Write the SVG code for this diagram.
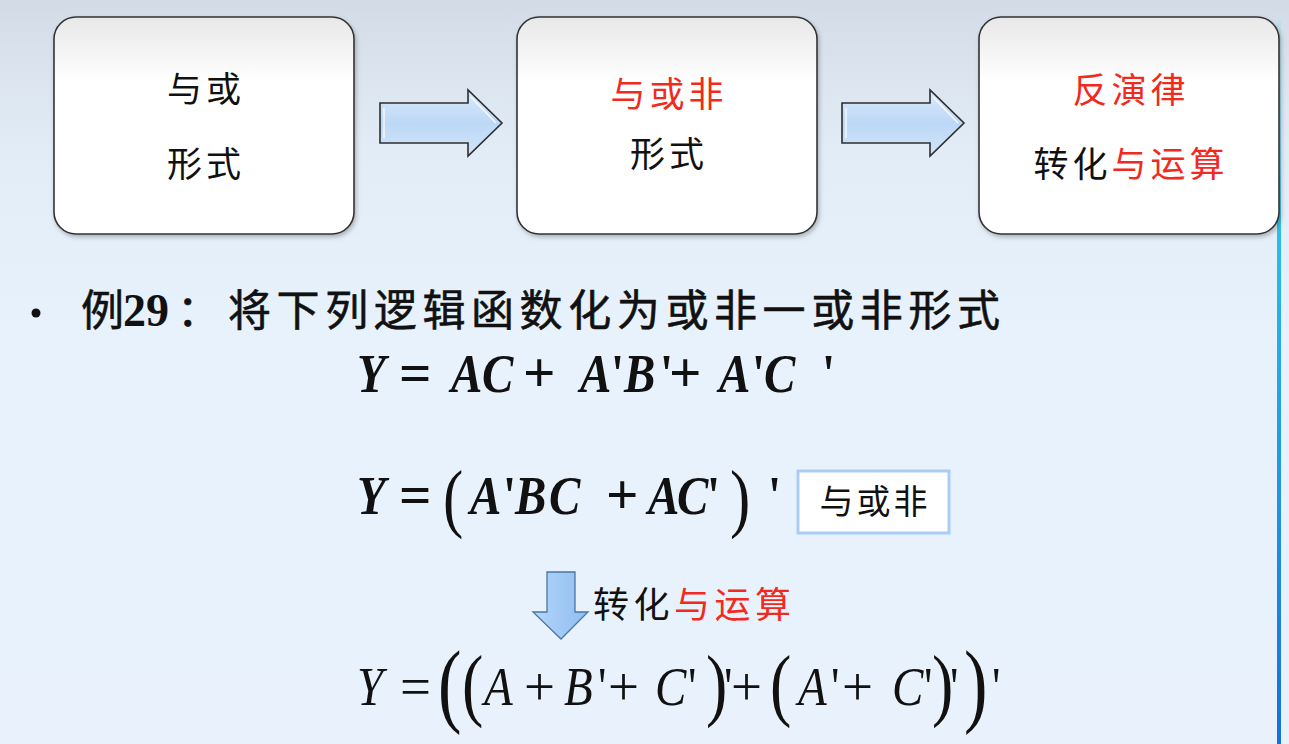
<svg xmlns="http://www.w3.org/2000/svg" width="1289" height="744" viewBox="0 0 1289 744">
<defs>
<linearGradient id="bg" x1="0" y1="0" x2="0" y2="1">
<stop offset="0" stop-color="#d3dce6"/>
<stop offset="0.2" stop-color="#e2ecf7"/>
<stop offset="0.45" stop-color="#e8f2fc"/>
<stop offset="1" stop-color="#e9f2fc"/>
</linearGradient>
<linearGradient id="boxfill" x1="0" y1="0" x2="0" y2="1">
<stop offset="0" stop-color="#e8e8e8"/>
<stop offset="0.3" stop-color="#ffffff"/>
<stop offset="1" stop-color="#ffffff"/>
</linearGradient>
<linearGradient id="arrowfill" x1="0" y1="0" x2="0" y2="1">
<stop offset="0" stop-color="#dbeafb"/>
<stop offset="0.5" stop-color="#bcd8f6"/>
<stop offset="1" stop-color="#d2e5f9"/>
</linearGradient>
<linearGradient id="downfill" x1="0" y1="0" x2="1" y2="0">
<stop offset="0" stop-color="#b4d6fa"/>
<stop offset="1" stop-color="#8ebdf1"/>
</linearGradient>
<linearGradient id="edge" x1="0" y1="0" x2="0" y2="1">
<stop offset="0" stop-color="#8fe0f2" stop-opacity="0.3"/>
<stop offset="0.3" stop-color="#29bde6"/>
<stop offset="1" stop-color="#1670dc"/>
</linearGradient>
<filter id="shadow" x="-5%" y="-5%" width="112%" height="115%">
<feDropShadow dx="1.5" dy="2.5" stdDeviation="2" flood-color="#000" flood-opacity="0.25"/>
</filter>
<style>
.box{fill:url(#boxfill);stroke:#333;stroke-width:1.6;filter:url(#shadow)}
.cjk{font-family:"Noto Sans CJK SC",sans-serif;font-size:35px;fill:#111;text-anchor:middle;letter-spacing:4px}
.red{fill:#f2291d}
.blk{fill:#111}
.barrow{fill:url(#arrowfill);stroke:#2e2e2e;stroke-width:1.6;stroke-linejoin:miter}
.bevel{fill:none;stroke:#ffffff;stroke-width:1.5;opacity:0.8}
.m1{font-family:"Liberation Serif",serif;font-weight:bold;font-size:54px;fill:#111}
.op1{font-family:"Liberation Serif",serif;font-weight:bold;font-size:57px;fill:#111}
.m3{font-family:"Liberation Serif",serif;font-size:54px;fill:#111}
.op3{font-family:"Liberation Serif",serif;font-size:55px;fill:#111}
.i{font-style:italic}
.par{font-family:"Liberation Serif",serif;fill:#111}
.ttl{font-family:"Noto Sans CJK SC",sans-serif;font-size:43px;fill:#111;stroke:#111;stroke-width:0.6}
</style>
</defs>

<rect x="0" y="0" width="1289" height="744" fill="url(#bg)"/>
<rect x="1277" y="20" width="4" height="724" fill="url(#edge)"/>

<g id="node-yuhuo">
<rect class="box" x="54" y="17" width="300" height="217" rx="22" ry="22"/>
<text class="cjk" x="206" y="102">与或</text>
<text class="cjk" x="206" y="177">形式</text>
</g>

<g id="node-yuhuofei">
<rect class="box" x="517" y="17" width="300" height="217" rx="22" ry="22"/>
<text class="cjk red" x="669" y="107">与或非</text>
<text class="cjk" x="669" y="167">形式</text>
</g>

<g id="node-fanyanlv">
<rect class="box" x="979" y="17" width="300" height="217" rx="22" ry="22"/>
<text class="cjk red" x="1131" y="103">反演律</text>
<text class="cjk" x="1131" y="177"><tspan class="blk">转化</tspan><tspan class="red">与运算</tspan></text>
</g>

<g id="connectors">
<path class="barrow" d="M380,103 H468 V90 L502,123 L468,156 V143 H380 Z"/>
<path class="bevel" d="M384,108 V138 M471,97 L496,123"/>
<path class="barrow" d="M842,103 H930 V90 L964,123 L930,156 V143 H842 Z"/>
<path class="bevel" d="M846,108 V138 M933,97 L958,123"/>
<path d="M547,572 H575 V612 H588 L561,639 L533,612 H547 Z" fill="url(#downfill)" stroke="#4d74a3" stroke-width="1.3"/>
</g>

<g id="title">
<circle cx="36" cy="313" r="4.5" fill="#111"/>
<text class="ttl" x="81" y="326">例</text>
<text x="123" y="326" style="font-family:'Liberation Serif',serif;font-weight:bold;font-size:46px;fill:#111">29</text>
<text class="ttl" x="177" y="326">：</text>
<text class="ttl" x="228" y="326" textLength="772" lengthAdjust="spacing">将下列逻辑函数化为或非一或非形式</text>
</g>

<g id="formula1">
<text class="m1" y="392" transform="translate(357,0) scale(0.87,1)"><tspan x="0" class="i">Y</tspan><tspan x="108" class="i">A</tspan><tspan x="143.7" class="i">C</tspan><tspan x="256.3" class="i">A</tspan><tspan x="292">'</tspan><tspan x="306.9" class="i">B</tspan><tspan x="348.3">'</tspan><tspan x="416.1" class="i">A</tspan><tspan x="454">'</tspan><tspan x="467.8" class="i">C</tspan><tspan x="534.5">'</tspan></text>
<text class="op1" y="392"><tspan x="399">=</tspan><tspan x="523">+</tspan><tspan x="669">+</tspan></text>
</g>

<g id="formula2">
<text class="m1" y="514" transform="translate(357,0) scale(0.87,1)"><tspan x="0" class="i">Y</tspan><tspan x="129.9" class="i">A</tspan><tspan x="167.8">'</tspan><tspan x="181.6" class="i">B</tspan><tspan x="220.7" class="i">C</tspan><tspan x="334.5" class="i">A</tspan><tspan x="367.8" class="i">C</tspan><tspan x="402.3">'</tspan><tspan x="472.4">'</tspan></text>
<text class="op1" y="514"><tspan x="399">=</tspan><tspan x="606">+</tspan></text>
<text class="par" font-size="76" transform="translate(443,523) scale(0.8,1)">(</text>
<text class="par" font-size="76" transform="translate(730,523) scale(0.8,1)">)</text>
</g>

<g id="node-yuhuofei-tag">
<rect x="798" y="471" width="151" height="62" fill="#ffffff" stroke="#a9cdf3" stroke-width="3"/>
<text class="cjk" x="875" y="514" style="font-size:34px;letter-spacing:3px">与或非</text>
</g>

<g id="label-transform">
<text x="593" y="618" style="font-family:'Noto Sans CJK SC',sans-serif;font-size:36px;letter-spacing:4.5px;fill:#111">转化<tspan class="red">与运算</tspan></text>
</g>

<g id="formula3">
<text class="m3" y="705" transform="translate(357,0) scale(0.87,1)"><tspan x="0" class="i">Y</tspan><tspan x="146" class="i">A</tspan><tspan x="237.9" class="i">B</tspan><tspan x="277">'</tspan><tspan x="342.5" class="i">C</tspan><tspan x="380.5">'</tspan><tspan x="421.8">'</tspan><tspan x="506.9" class="i">A</tspan><tspan x="544.8">'</tspan><tspan x="614.9" class="i">C</tspan><tspan x="651.7">'</tspan><tspan x="681.6">'</tspan><tspan x="729.9">'</tspan></text>
<text class="op3" y="705"><tspan x="400">=</tspan><tspan x="524">+</tspan><tspan x="608">+</tspan><tspan x="731">+</tspan><tspan x="842">+</tspan></text>
<text class="par" font-size="94" transform="translate(438,715) scale(0.75,1)">(</text>
<text class="par" font-size="80" transform="translate(462,711) scale(0.8,1)">(</text>
<text class="par" font-size="80" transform="translate(706,711) scale(0.8,1)">)</text>
<text class="par" font-size="80" transform="translate(770,711) scale(0.8,1)">(</text>
<text class="par" font-size="80" transform="translate(932,711) scale(0.8,1)">)</text>
<text class="par" font-size="94" transform="translate(964,715) scale(0.75,1)">)</text>
</g>
</svg>
